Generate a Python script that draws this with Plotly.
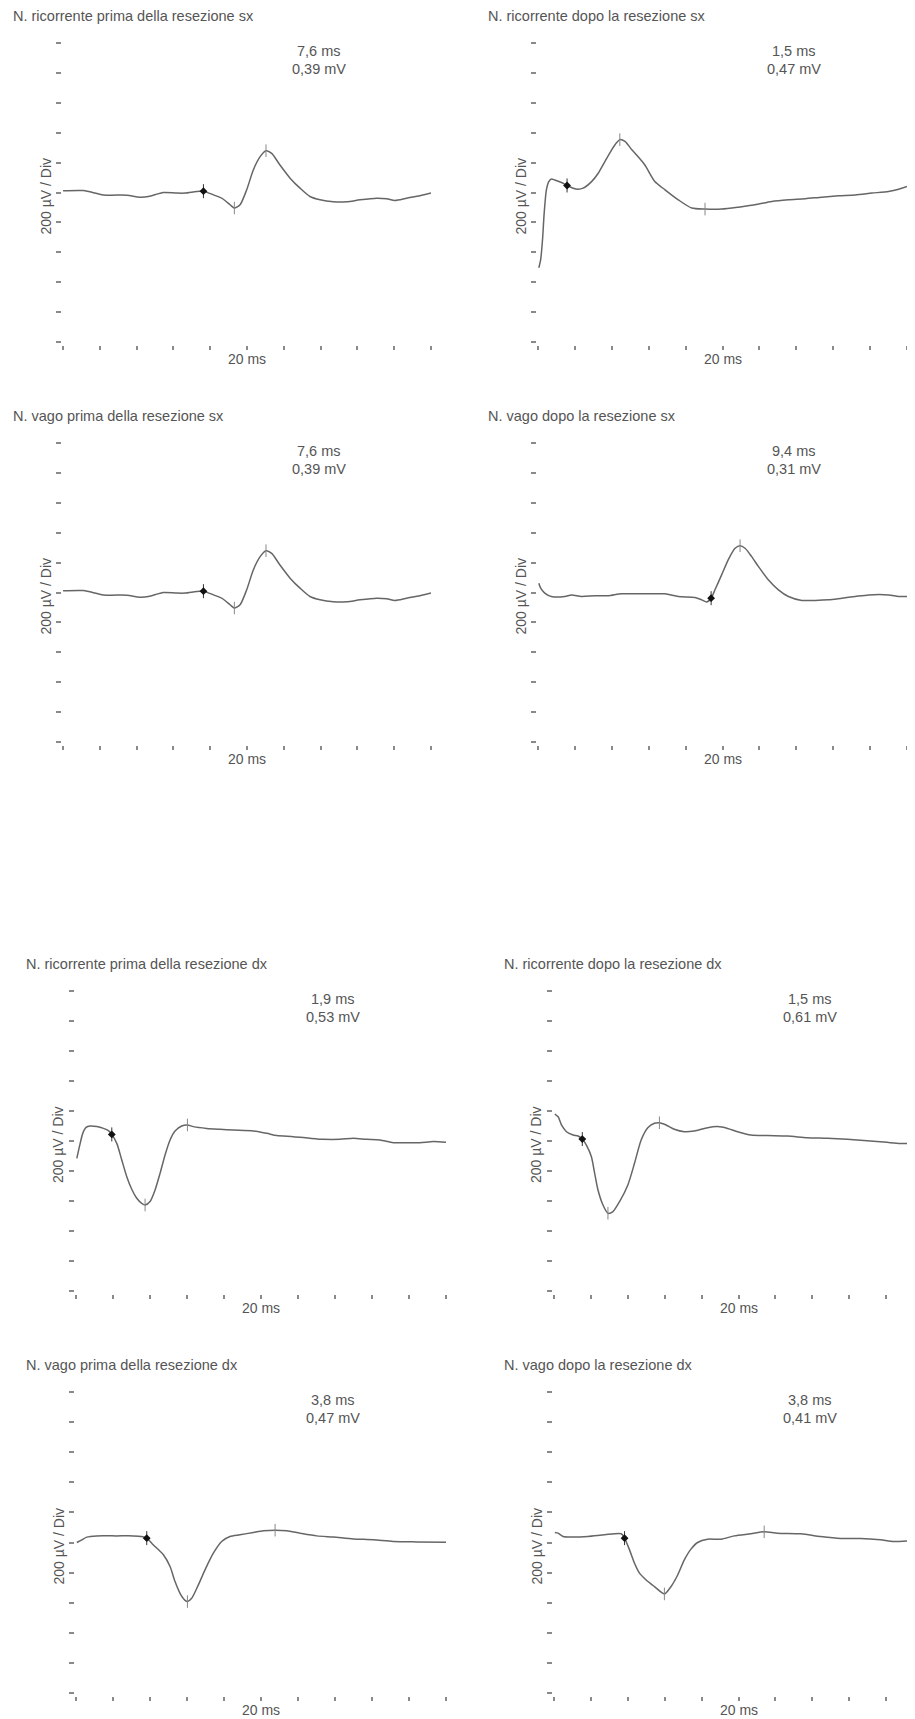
import plotly.graph_objects as go

# The page body keeps the browser's default 8 px margin, so the figure is
# drawn 8 px smaller and all pixel positions below are shifted by that margin.
PAGE_W, PAGE_H = 915, 1719
OFF = 8
W, H = PAGE_W - OFF, PAGE_H - OFF

# ---------------- data ----------------
titles = [
    "N. ricorrente prima della resezione sx",
    "N. ricorrente dopo la resezione sx",
    "N. vago prima della resezione sx",
    "N. vago dopo la resezione sx",
    "N. ricorrente prima della resezione dx",
    "N. ricorrente dopo la resezione dx",
    "N. vago prima della resezione dx",
    "N. vago dopo la resezione dx",
]
latency_labels = ["7,6 ms", "1,5 ms", "7,6 ms", "9,4 ms", "1,9 ms", "1,5 ms", "3,8 ms", "3,8 ms"]
amplitude_labels = ["0,39 mV", "0,47 mV", "0,39 mV", "0,31 mV", "0,53 mV", "0,61 mV", "0,47 mV", "0,41 mV"]
sweep_label = "20 ms"
sens_label = "200 µV / Div"
sweep_ms = 20
div_uv = 200
x_ticks_ms = [0, 2, 4, 6, 8, 10, 12, 14, 16, 18, 20]
y_ticks_uv = [-1000, -800, -600, -400, -200, 0, 200, 400, 600, 800, 1000]

# 1 - ricorrente prima sx
rps_t = [0, 1.11, 2.19, 3.46, 4.18, 4.64, 5.45, 6.18, 6.63, 7.26, 7.63, 8.17, 8.62, 9.08, 9.31, 9.62,
         9.98, 10.34, 10.71, 11.03, 11.34, 11.79, 12.34, 12.88, 13.42, 13.97, 14.69, 15.42, 16.14,
         17.05, 17.59, 18.04, 18.68, 19.40, 20.0]
rps_uv = [11, 13, -16, -18, -31, -27, 0, -4, -4, 7, 9, -16, -38, -82, -104, -82,
          18, 151, 240, 280, 262, 184, 96, 29, -27, -49, -62, -62, -49,
          -38, -42, -53, -38, -22, -4]
# 2 - ricorrente dopo sx
rds_t = [0.04, 0.14, 0.24, 0.33, 0.45, 0.58, 0.72, 0.90, 1.27, 1.57, 1.90, 2.17, 2.44, 2.90, 3.26,
         3.62, 3.98, 4.25, 4.43, 4.71, 5.07, 5.34, 5.79, 6.33, 6.88, 7.60, 8.33, 9.05, 9.95, 10.86,
         11.76, 12.67, 13.57, 14.48, 15.38, 16.29, 17.19, 18.10, 19.00, 19.55, 20.0]
rds_uv = [-504, -449, -316, -138, 18, 73, 91, 84, 67, 47, 29, 22, 29, 73, 129,
          207, 284, 333, 354, 342, 288, 251, 184, 73, 18, -49, -104, -111, -111, -98,
          -82, -60, -49, -42, -31, -22, -16, -4, 7, 22, 40]
# 3 - vago prima sx
vps_t = [0, 1.11, 2.19, 3.46, 4.18, 4.64, 5.45, 6.18, 6.63, 7.26, 7.63, 8.17, 8.62, 9.08, 9.31, 9.62,
         9.98, 10.34, 10.71, 11.03, 11.34, 11.79, 12.34, 12.88, 13.42, 13.97, 14.69, 15.42, 16.14,
         17.05, 17.59, 18.04, 18.68, 19.40, 20.0]
vps_uv = [11, 13, -16, -18, -31, -27, 0, -4, -4, 7, 9, -16, -38, -82, -104, -82,
          18, 151, 240, 280, 262, 184, 96, 29, -27, -49, -62, -62, -49,
          -38, -42, -53, -38, -22, -4]
# 4 - vago dopo sx
vds_t = [0.04, 0.14, 0.36, 0.72, 1.45, 1.81, 2.35, 3.08, 3.80, 4.52, 5.43, 6.88, 7.60, 8.51, 8.87,
         9.14, 9.38, 9.59, 9.95, 10.32, 10.68, 10.95, 11.22, 11.58, 11.95, 12.49, 13.03, 13.57,
         14.30, 15.02, 15.75, 16.47, 17.19, 17.92, 19.00, 19.55, 20.0]
vds_uv = [62, 29, -4, -27, -27, -16, -27, -22, -22, -9, -9, -9, -27, -33, -49,
          -64, -38, 18, 118, 222, 296, 313, 296, 240, 173, 84, 18, -27,
          -53, -53, -49, -38, -27, -16, -16, -27, -27]
# 5 - ricorrente prima dx
rpd_t = [0.04, 0.18, 0.36, 0.54, 0.76, 1.12, 1.48, 1.75, 1.93, 2.20, 2.47, 2.74, 3.01, 3.28, 3.55,
         3.73, 4.00, 4.27, 4.54, 4.81, 5.08, 5.35, 5.71, 6.02, 6.34, 7.06, 7.78, 8.50, 9.59, 10.31,
         10.85, 11.75, 12.65, 13.37, 14.27, 14.99, 15.71, 16.43, 17.15, 17.87, 18.59, 19.32, 20.0]
rpd_uv = [-116, -38, 51, 91, 100, 96, 84, 69, 44, -16, -127, -238, -322, -382, -416,
          -427, -404, -327, -216, -93, 7, 67, 100, 107, 96, 84, 78, 73, 67, 51,
          36, 29, 18, 11, 11, 18, 11, 7, -11, -11, -11, -4, -9]
# 6 - ricorrente dopo dx
rdd_t = [0.04, 0.22, 0.40, 0.67, 1.03, 1.30, 1.53, 1.75, 2.02, 2.20, 2.38, 2.65, 2.92, 3.19, 3.55,
         4.00, 4.36, 4.72, 5.08, 5.44, 5.71, 6.07, 6.52, 7.06, 7.60, 8.32, 8.86, 9.41, 9.95, 10.67,
         11.57, 12.65, 13.73, 14.81, 15.89, 16.97, 18.05, 18.77, 19.50, 20.0]
rdd_uv = [180, 162, 107, 62, 40, 33, 13, -27, -104, -216, -327, -427, -482, -471, -404,
          -293, -149, 7, 89, 118, 122, 107, 78, 62, 67, 89, 96, 84, 62, 40,
          36, 33, 22, 18, 11, 2, -9, -16, -16, -16]
# 7 - vago prima dx
vpd_t = [0.04, 0.31, 0.58, 1.12, 2.20, 3.10, 3.55, 3.82, 4.18, 4.72, 5.08, 5.35, 5.62, 5.89, 6.02,
         6.25, 6.61, 6.97, 7.42, 7.87, 8.32, 8.86, 9.59, 10.13, 10.76, 11.39, 12.11, 13.01, 13.91,
         14.99, 16.07, 17.15, 18.41, 20.0]
vpd_uv = [0, 18, 36, 44, 44, 44, 40, 29, -16, -82, -160, -260, -338, -385, -393,
          -371, -282, -182, -71, 7, 40, 51, 67, 78, 82, 78, 62, 44, 36,
          24, 18, 7, 4, 2]
# 8 - vago dopo dx
vdd_t = [0.04, 0.22, 0.49, 0.94, 1.84, 2.74, 3.64, 3.82, 4.09, 4.36, 4.63, 4.99, 5.44, 5.98, 6.34,
         6.70, 7.06, 7.42, 7.78, 8.32, 9.05, 9.77, 10.67, 11.39, 12.11, 13.37, 14.45, 15.53, 16.61,
         17.69, 18.41, 19.50, 20.0]
vdd_uv = [67, 62, 40, 36, 40, 51, 58, 29, -49, -138, -204, -249, -293, -342, -293,
          -216, -116, -44, 0, 22, 22, 44, 58, 71, 62, 58, 40, 27, 27,
          18, 7, 13, 13]

traces_t = [rps_t, rds_t, vps_t, vds_t, rpd_t, rdd_t, vpd_t, vdd_t]
traces_uv = [rps_uv, rds_uv, vps_uv, vds_uv, rpd_uv, rdd_uv, vpd_uv, vdd_uv]

# onset (latency) markers
onset_t = [7.63, 1.57, 7.63, 9.38, 1.93, 1.53, 3.82, 3.82]
onset_uv = [9, 47, 9, -38, 44, 13, 29, 29]
# peak markers (negative / positive peaks)
peaks_t = [[9.31, 11.03], [4.43, 9.05], [9.31, 11.03], [10.95], [3.73, 6.02], [2.92, 5.71], [6.02, 10.76], [5.98, 11.39]]
peaks_uv = [[-104, 280], [354, -111], [-104, 280], [313], [-427, 107], [-482, 122], [-393, 82], [-342, 71]]

# ---------------- layout geometry (page pixels) ----------------
# x0, x1: horizontal extent of the sweep; y0, y1: top / bottom of the 10 divisions
geo = [
    (63, 431, 43, 342),
    (538, 907, 43, 342),
    (63, 431, 443, 742),
    (538, 907, 443, 742),
    (76, 446, 991, 1291),
    (554, 923, 991, 1291),
    (76, 446, 1392, 1693),
    (554, 923, 1392, 1693),
]

FONT = "Liberation Sans, Arial, sans-serif"
TXT = "#555555"
TRACE = "#666666"
TICK = "#8a8a8a"


def fx(px):
    return (px - OFF) / W


def fy(py):
    return 1 - (py - OFF) / H


fig = go.Figure()
layout = dict(
    width=W, height=H, margin=dict(l=0, r=0, t=0, b=0),
    paper_bgcolor="white", plot_bgcolor="white", showlegend=False,
    font=dict(family=FONT, size=14, color=TXT),
)
annotations = []

for i, (x0, x1, y0, y1) in enumerate(geo):
    n = i + 1
    xa = "x" if n == 1 else f"x{n}"
    ya = "y" if n == 1 else f"y{n}"
    xkey = "xaxis" if n == 1 else f"xaxis{n}"
    ykey = "yaxis" if n == 1 else f"yaxis{n}"

    xr_end = sweep_ms
    dom_end = x1
    if x1 > PAGE_W:
        dom_end = PAGE_W
        xr_end = sweep_ms * (PAGE_W - x0) / (x1 - x0)

    layout[xkey] = dict(
        domain=[fx(x0), min(1.0, fx(dom_end))], range=[-0.005, xr_end], anchor="free",
        position=fy(y1 + 3), showgrid=False, zeroline=False, showline=False,
        tickmode="array", tickvals=x_ticks_ms, ticktext=[""] * len(x_ticks_ms),
        ticks="outside", ticklen=4, tickwidth=1.6, tickcolor=TICK, fixedrange=True,
    )
    layout[ykey] = dict(
        domain=[fy(y1), fy(y0)], range=[-5 * div_uv - 1, 5 * div_uv + 1], anchor="free",
        position=fx(x0 - 2), showgrid=False, zeroline=False, showline=False,
        tickmode="array", tickvals=y_ticks_uv, ticktext=[""] * len(y_ticks_uv),
        ticks="outside", ticklen=5, tickwidth=1.6, tickcolor=TICK, fixedrange=True,
    )

    fig.add_trace(go.Scatter(
        x=traces_t[i], y=traces_uv[i], xaxis=xa, yaxis=ya, mode="lines",
        line=dict(color=TRACE, width=1.5, shape="spline", smoothing=0.7),
        hoverinfo="skip",
    ))
    fig.add_trace(go.Scatter(
        x=peaks_t[i], y=peaks_uv[i], xaxis=xa, yaxis=ya, mode="markers",
        marker=dict(symbol="line-ns", size=9, color=TICK, line=dict(color="#888888", width=1)),
        hoverinfo="skip",
    ))
    fig.add_trace(go.Scatter(
        x=[onset_t[i]], y=[onset_uv[i]], xaxis=xa, yaxis=ya, mode="markers",
        marker=dict(symbol="line-ns", size=10, color="#222", line=dict(color="#333333", width=1)),
        hoverinfo="skip",
    ))
    fig.add_trace(go.Scatter(
        x=[onset_t[i]], y=[onset_uv[i]], xaxis=xa, yaxis=ya, mode="markers",
        marker=dict(symbol="diamond", size=6, color="#111111", line=dict(width=0)),
        hoverinfo="skip",
    ))

    # title
    annotations.append(dict(text=titles[i], xref="paper", yref="paper", x=fx(x0 - 52), y=fy(y0 - 27),
                            xanchor="left", yanchor="middle", showarrow=False,
                            font=dict(family=FONT, size=14.5, color=TXT)))
    # latency / amplitude
    annotations.append(dict(text=latency_labels[i], xref=xa, yref="paper", x=13.9, y=fy(y0 + 8),
                            xanchor="center", yanchor="middle", showarrow=False,
                            font=dict(family=FONT, size=14.5, color=TXT)))
    annotations.append(dict(text=amplitude_labels[i], xref=xa, yref="paper", x=13.9, y=fy(y0 + 26),
                            xanchor="center", yanchor="middle", showarrow=False,
                            font=dict(family=FONT, size=14.5, color=TXT)))
    # sweep label under the middle tick
    annotations.append(dict(text=sweep_label, xref=xa, yref="paper", x=sweep_ms / 2, y=fy(y1 + 17),
                            xanchor="center", yanchor="middle", showarrow=False,
                            font=dict(family=FONT, size=14, color=TXT)))
    # sensitivity label
    annotations.append(dict(text=sens_label, xref="paper", yref="paper", x=fx(x0 - 18),
                            y=fy((y0 + y1) / 2 + 4), xanchor="center", yanchor="middle",
                            textangle=-90, showarrow=False,
                            font=dict(family=FONT, size=14, color=TXT)))

layout["annotations"] = annotations
fig.update_layout(**layout)
fig.write_html("out.html")
